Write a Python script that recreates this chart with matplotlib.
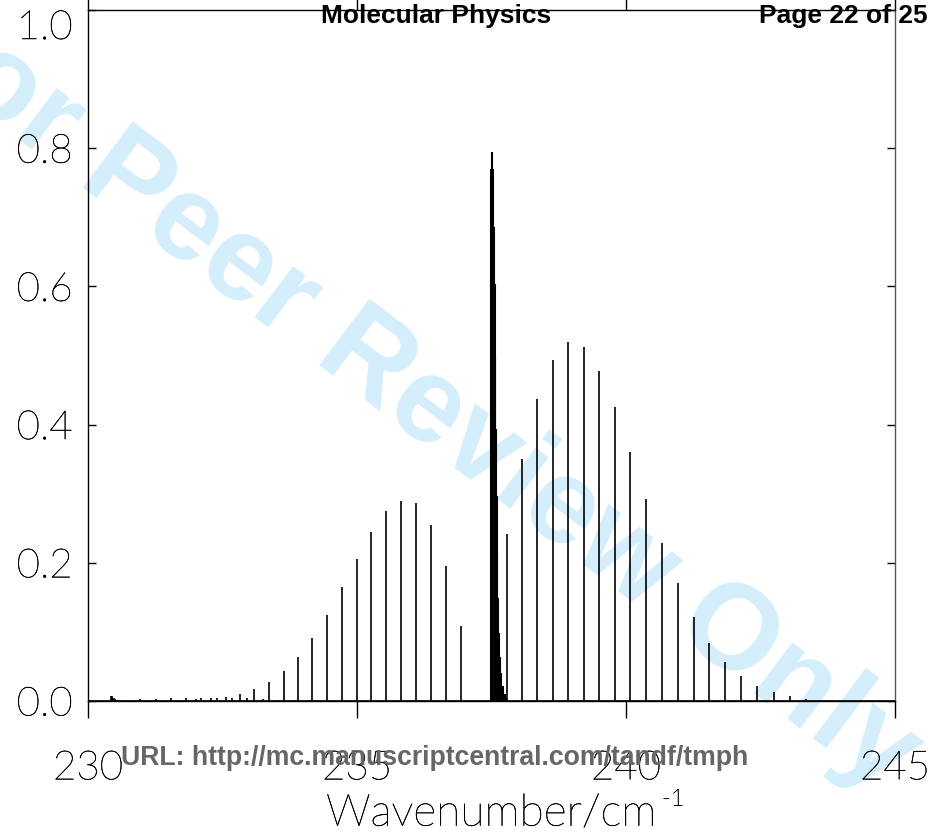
import numpy as np
import matplotlib
matplotlib.use("Agg")
import matplotlib.pyplot as plt
import matplotlib.patheffects as pe

# line positions (cm-1) and relative intensities
q_pos = [237.491, 237.504, 237.515, 237.528, 237.539, 237.552, 237.565, 237.574,
         237.584, 237.593, 237.602, 237.617, 237.636, 237.658, 237.682, 237.710,
         237.742, 237.770]
q_int = [0.770, 0.770, 0.795, 0.770, 0.686, 0.603, 0.603, 0.497,
         0.393, 0.296, 0.214, 0.149, 0.098, 0.064, 0.040, 0.021,
         0.010, 0.004]

p_pos = [236.933, 236.654, 236.375, 236.097, 235.818, 235.539, 235.255, 234.994,
         234.716, 234.437, 234.169, 233.898, 233.634, 233.359, 233.086, 232.816,
         232.556, 232.398, 232.106, 231.822, 231.543, 231.258, 230.972, 230.693]
p_int = [0.108, 0.195, 0.254, 0.286, 0.290, 0.275, 0.244, 0.205,
         0.165, 0.125, 0.091, 0.064, 0.043, 0.028, 0.017, 0.010,
         0.006, 0.005, 0.005, 0.004, 0.004, 0.003, 0.003, 0.002]

r_pos = [237.783, 238.067, 238.351, 238.638, 238.928, 239.214, 239.498, 239.796,
         240.080, 240.372, 240.664, 240.961, 241.258, 241.548, 241.846, 242.143,
         242.440, 242.745, 243.043, 243.340]
r_int = [0.241, 0.350, 0.437, 0.494, 0.519, 0.512, 0.478, 0.425,
         0.360, 0.292, 0.228, 0.171, 0.122, 0.084, 0.057, 0.036,
         0.021, 0.013, 0.007, 0.003]

# weak hot-band lines
hot_pos = [232.013, 232.286, 232.677, 232.961, 233.258, 233.537, 233.829, 234.126]
hot_int = [0.003, 0.004, 0.005, 0.004, 0.003, 0.002, 0.002, 0.001]
hotq_pos = [230.422, 230.437, 230.455, 230.474, 230.502, 230.539]
hotq_int = [0.0075, 0.007, 0.006, 0.004, 0.003, 0.0015]

xticks = [230, 235, 240, 245]
yticks = [0.0, 0.2, 0.4, 0.6, 0.8, 1.0]

plt.rcParams['font.family'] = ['Lato', 'DejaVu Sans']
plt.rcParams['font.weight'] = 'light'
plt.rcParams['axes.labelweight'] = 'light'
thin_ink = [pe.withStroke(linewidth=0.35, foreground='black')]

fig = plt.figure(figsize=(9.32, 8.4), dpi=100)
ax = fig.add_axes([88/932, 1 - 701/840, (895 - 88)/932, (701 - 10)/840])
ax.patch.set_alpha(0)

for pos, inten in [(p_pos, p_int), (r_pos, r_int), (hot_pos, hot_int), (hotq_pos, hotq_int)]:
    ax.vlines(pos, 0, inten, color='black', lw=1.2)
ax.vlines(q_pos, 0, q_int, color='black', lw=1.5)

ax.axhline(0, color='black', lw=1.2)
ax.set_xlim(230, 245)
ax.set_ylim(0, 1.0)
ax.set_xticks(xticks)
ax.set_xticklabels([str(t) for t in xticks])
ax.set_yticks(yticks)
ax.set_yticklabels(['%.1f' % t for t in yticks])
ax.tick_params(axis='x', which='major', direction='out', length=12.5, width=1,
               pad=23, labelsize=29, labelcolor='black', top=True, bottom=True)
ax.tick_params(axis='y', which='major', direction='in', length=6, width=1,
               pad=11, labelsize=29, labelcolor='black', left=True, right=True)
# top label sits just inside the frame, as in the original page
ax.get_yticklabels()[-1].set_verticalalignment('top')
for lab in ax.get_xticklabels() + ax.get_yticklabels():
    lab.set_path_effects(thin_ink)
for s in ax.spines.values():
    s.set_linewidth(1.0)
ax.spines['right'].set_color('#555555')

xlab = ax.set_xlabel('Wavenumber/cm', fontsize=32, fontweight='light', labelpad=6)
xlab.set_path_effects(thin_ink)

# journal watermark / page furniture
fig.text(0.438, 0.531, 'For Peer Review Only', rotation=-37, color='#D5EEFB',
         fontsize=87, fontweight='bold', family='Liberation Sans',
         ha='center', va='center', zorder=-5)
fig.text(436/932, 1 - 16/840, 'Molecular Physics', fontsize=19, fontweight='bold',
         family='Liberation Sans', ha='center', va='center')
fig.text(928/932, 1 - 16/840, 'Page 22 of 25', fontsize=19, fontweight='bold',
         family='Liberation Sans', ha='right', va='center')
fig.text(435/932, 1 - 758/840, 'URL: http://mc.manuscriptcentral.com/tandf/tmph',
         fontsize=19.2, fontweight='bold', family='Liberation Sans', color='#666666',
         ha='center', va='center')

# superscript -1 placed right after the axis label, level with the cap height
fig.canvas.draw()
bb = xlab.get_window_extent()
sup = fig.text((bb.x1 + 5) / 932, (bb.y1 + 6) / 840, '-1', fontsize=17,
               fontweight='light', ha='left', va='top')
sup.set_path_effects(thin_ink)

fig.savefig('out.png', dpi=100)
